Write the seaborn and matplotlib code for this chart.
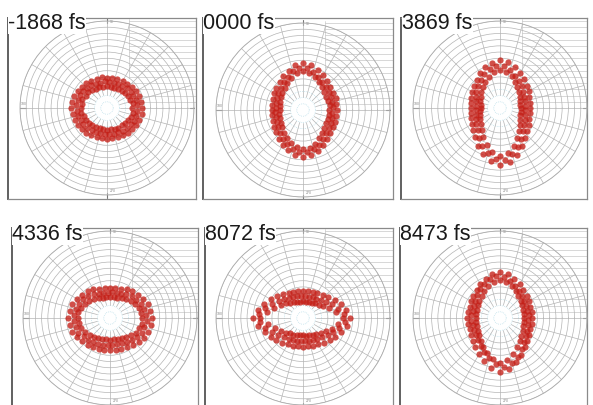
"""
Six polar snapshots of the measured distribution at different delays.
Each panel shows a red point band (read off the original figure at 10 deg steps)
on a dense polar grid inside a framed box.
"""

import numpy as np
import pandas as pd
import matplotlib
matplotlib.use("Agg")
import matplotlib.pyplot as plt
import seaborn as sns

# Panel labels (delay)
LABELS = ["-1868 fs", "0000 fs", "3869 fs", "4336 fs", "8072 fs", "8473 fs"]

# Angles (deg) where the band was read: edges every 10 deg, middle row in between
EDGE_ANGLES = list(range(0, 360, 10))
MID_ANGLES = list(range(5, 360, 10))

# Band radii (fraction of the outer ring)
outer_m1868 = [0.40, 0.40, 0.39, 0.38, 0.37, 0.36, 0.36, 0.35, 0.35, 0.35, 0.36, 0.35,
               0.36, 0.37, 0.38, 0.39, 0.40, 0.41, 0.41, 0.40, 0.39, 0.38, 0.37, 0.37,
               0.36, 0.35, 0.35, 0.36, 0.35, 0.36, 0.36, 0.37, 0.38, 0.39, 0.39, 0.41]
inner_m1868 = [0.29, 0.30, 0.28, 0.28, 0.27, 0.26, 0.25, 0.25, 0.24, 0.25, 0.25, 0.26,
               0.25, 0.27, 0.28, 0.28, 0.30, 0.29, 0.30, 0.30, 0.28, 0.28, 0.27, 0.26,
               0.25, 0.25, 0.24, 0.25, 0.25, 0.26, 0.26, 0.26, 0.27, 0.28, 0.29, 0.30]
mid_m1868 = [0.35, 0.34, 0.33, 0.33, 0.32, 0.31, 0.30, 0.30, 0.30, 0.31, 0.30, 0.31,
             0.32, 0.33, 0.34, 0.34, 0.35, 0.36, 0.35, 0.34, 0.33, 0.33, 0.32, 0.31,
             0.30, 0.30, 0.30, 0.30, 0.31, 0.31, 0.32, 0.33, 0.33, 0.34, 0.35, 0.35]

outer_0000 = [0.39, 0.39, 0.40, 0.40, 0.41, 0.43, 0.46, 0.49, 0.52, 0.54, 0.52, 0.48,
              0.45, 0.42, 0.40, 0.38, 0.37, 0.36, 0.36, 0.36, 0.37, 0.38, 0.40, 0.43,
              0.46, 0.49, 0.52, 0.54, 0.53, 0.50, 0.46, 0.43, 0.41, 0.40, 0.39, 0.39]
inner_0000 = [0.30, 0.31, 0.30, 0.31, 0.32, 0.34, 0.37, 0.40, 0.43, 0.45, 0.43, 0.39,
              0.36, 0.33, 0.31, 0.29, 0.28, 0.27, 0.27, 0.28, 0.28, 0.29, 0.31, 0.34,
              0.37, 0.40, 0.43, 0.45, 0.44, 0.41, 0.37, 0.34, 0.32, 0.31, 0.30, 0.30]
mid_0000 = [0.35, 0.35, 0.35, 0.36, 0.37, 0.39, 0.42, 0.45, 0.48, 0.49, 0.46, 0.42,
            0.39, 0.36, 0.35, 0.33, 0.32, 0.31, 0.32, 0.32, 0.33, 0.35, 0.37, 0.40,
            0.43, 0.46, 0.49, 0.49, 0.47, 0.44, 0.40, 0.37, 0.36, 0.35, 0.35, 0.34]

outer_3869 = [0.35, 0.35, 0.36, 0.38, 0.40, 0.43, 0.47, 0.50, 0.54, 0.55, 0.53, 0.50,
              0.46, 0.42, 0.39, 0.37, 0.35, 0.34, 0.33, 0.34, 0.35, 0.37, 0.40, 0.44,
              0.50, 0.56, 0.62, 0.66, 0.63, 0.57, 0.51, 0.45, 0.41, 0.38, 0.36, 0.35]
inner_3869 = [0.24, 0.23, 0.25, 0.26, 0.29, 0.31, 0.35, 0.39, 0.42, 0.44, 0.42, 0.38,
              0.34, 0.31, 0.28, 0.25, 0.24, 0.22, 0.22, 0.23, 0.24, 0.26, 0.29, 0.33,
              0.39, 0.45, 0.51, 0.55, 0.52, 0.46, 0.40, 0.34, 0.30, 0.27, 0.25, 0.24]
mid_3869 = [0.29, 0.30, 0.31, 0.32, 0.35, 0.38, 0.41, 0.45, 0.48, 0.49, 0.46, 0.43,
            0.39, 0.35, 0.33, 0.31, 0.29, 0.28, 0.28, 0.29, 0.31, 0.33, 0.36, 0.42,
            0.48, 0.54, 0.59, 0.60, 0.55, 0.49, 0.43, 0.38, 0.34, 0.32, 0.30, 0.29]

outer_4336 = [0.48, 0.47, 0.46, 0.44, 0.42, 0.40, 0.38, 0.36, 0.35, 0.35, 0.35, 0.36,
              0.38, 0.40, 0.42, 0.44, 0.46, 0.47, 0.48, 0.47, 0.46, 0.44, 0.42, 0.40,
              0.39, 0.38, 0.37, 0.37, 0.37, 0.38, 0.39, 0.41, 0.43, 0.45, 0.47, 0.48]
inner_4336 = [0.37, 0.36, 0.35, 0.33, 0.31, 0.28, 0.27, 0.25, 0.24, 0.24, 0.24, 0.25,
              0.26, 0.28, 0.31, 0.33, 0.35, 0.37, 0.37, 0.36, 0.35, 0.33, 0.30, 0.28,
              0.27, 0.26, 0.25, 0.25, 0.25, 0.26, 0.27, 0.29, 0.31, 0.34, 0.35, 0.37]
mid_4336 = [0.42, 0.41, 0.39, 0.37, 0.35, 0.33, 0.31, 0.30, 0.30, 0.29, 0.30, 0.31,
            0.33, 0.35, 0.38, 0.39, 0.41, 0.42, 0.42, 0.41, 0.40, 0.37, 0.35, 0.34,
            0.33, 0.32, 0.31, 0.31, 0.31, 0.32, 0.34, 0.36, 0.38, 0.40, 0.41, 0.43]

outer_8072 = [0.54, 0.50, 0.46, 0.42, 0.38, 0.35, 0.33, 0.32, 0.31, 0.31, 0.31, 0.32,
              0.33, 0.36, 0.39, 0.43, 0.48, 0.53, 0.57, 0.52, 0.47, 0.43, 0.40, 0.37,
              0.35, 0.34, 0.33, 0.33, 0.33, 0.34, 0.35, 0.37, 0.40, 0.43, 0.47, 0.51]
inner_8072 = [0.46, 0.38, 0.32, 0.27, 0.24, 0.22, 0.20, 0.19, 0.19, 0.19, 0.19, 0.20,
              0.21, 0.23, 0.26, 0.29, 0.35, 0.42, 0.49, 0.41, 0.34, 0.29, 0.26, 0.23,
              0.22, 0.21, 0.20, 0.20, 0.21, 0.21, 0.22, 0.24, 0.27, 0.31, 0.36, 0.41]
mid_8072 = [0.47, 0.42, 0.37, 0.32, 0.29, 0.27, 0.26, 0.25, 0.25, 0.25, 0.26, 0.26,
            0.28, 0.31, 0.34, 0.39, 0.45, 0.51, 0.50, 0.45, 0.39, 0.35, 0.31, 0.29,
            0.28, 0.27, 0.26, 0.27, 0.27, 0.28, 0.29, 0.31, 0.35, 0.38, 0.43, 0.49]

outer_8473 = [0.37, 0.37, 0.37, 0.38, 0.40, 0.42, 0.45, 0.48, 0.51, 0.53, 0.51, 0.48,
              0.45, 0.42, 0.40, 0.38, 0.37, 0.37, 0.38, 0.37, 0.37, 0.38, 0.41, 0.44,
              0.48, 0.53, 0.58, 0.62, 0.59, 0.54, 0.49, 0.44, 0.41, 0.39, 0.37, 0.37]
inner_8473 = [0.28, 0.28, 0.28, 0.29, 0.31, 0.33, 0.36, 0.39, 0.42, 0.44, 0.42, 0.39,
              0.36, 0.33, 0.31, 0.29, 0.28, 0.28, 0.28, 0.28, 0.28, 0.29, 0.31, 0.34,
              0.38, 0.43, 0.48, 0.52, 0.49, 0.44, 0.39, 0.35, 0.32, 0.30, 0.28, 0.28]
mid_8473 = [0.33, 0.32, 0.33, 0.34, 0.36, 0.38, 0.40, 0.44, 0.47, 0.48, 0.46, 0.43,
            0.40, 0.37, 0.35, 0.33, 0.32, 0.33, 0.33, 0.32, 0.33, 0.34, 0.36, 0.39,
            0.43, 0.48, 0.53, 0.56, 0.53, 0.49, 0.44, 0.39, 0.36, 0.34, 0.33, 0.32]

BANDS = [
    (outer_m1868, inner_m1868, mid_m1868),
    (outer_0000, inner_0000, mid_0000),
    (outer_3869, inner_3869, mid_3869),
    (outer_4336, inner_4336, mid_4336),
    (outer_8072, inner_8072, mid_8072),
    (outer_8473, inner_8473, mid_8473),
]

# Layout in pixels: frame box (x0, y0, x1, y1), polar centre, label origin
W, H = 593, 405
R = 87
FRAMES = [(8, 18, 196, 199), (203, 18, 393, 199), (401, 18, 587, 199),
          (12, 228, 198, 407), (205, 228, 393, 407), (400, 228, 587, 407)]
CENTERS = [(107, 108), (303, 110), (500, 108), (110, 318), (303, 318), (500, 318)]
LABEL_POS = [(8, 29), (203, 29), (402, 29), (12, 240), (205, 240), (400, 240)]

RINGS = np.arange(1, 15) / 14
GRID = "#b4b4b4"


def fig_rect(x0, y0, x1, y1):
    return [x0 / W, 1 - y1 / H, (x1 - x0) / W, (y1 - y0) / H]


sns.set_style("white")
plt.rcParams["font.family"] = ["Liberation Sans", "DejaVu Sans"]

fig = plt.figure(figsize=(W / 100, H / 100), dpi=100)

for i, (label, band) in enumerate(zip(LABELS, BANDS)):
    x0, y0, x1, y1 = FRAMES[i]
    cx, cy = CENTERS[i]

    # framed box with the rectangular grid in the upper right
    cax = fig.add_axes(fig_rect(x0, y0, x1, y1))
    cax.set_xlim((x0 - cx) / R, (x1 - cx) / R)
    cax.set_ylim((cy - y1) / R, (cy - y0) / R)
    cax.set_xticks([])
    cax.set_yticks([])
    for side, sp in cax.spines.items():
        sp.set_color("#8a8a8a")
        sp.set_linewidth(0.9)
    cax.spines["left"].set_color("#606060")
    cax.spines["left"].set_linewidth(1.4)
    if i >= 3:
        cax.spines["bottom"].set_visible(False)
    xmax = (x1 - cx) / R
    for r in RINGS:
        cax.plot([0.25, xmax], [r, r], color="#c2c2c2", lw=0.45, zorder=1)
    cax.plot([0.25, 0.25], [0.35, 1.02], color="#c2c2c2", lw=0.45, zorder=1)
    # small compass ticks with tiny labels
    cax.plot([0, 0], [0.98, 1.03], color="#777777", lw=0.8)
    cax.plot([0, 0], [-1.03, -0.98], color="#777777", lw=0.8)
    cax.plot([-1.0, -0.93], [0, 0], color="#777777", lw=0.8)
    cax.plot([0.95, 1.0], [0, 0], color="#777777", lw=0.8)
    cax.text(0.03, 0.99, "90", fontsize=2.5, color="#888888", va="center")
    cax.text(-0.99, 0.03, "180", fontsize=2.5, color="#888888")
    cax.text(0.03, -0.95, "270", fontsize=2.5, color="#888888", va="center")

    # polar grid and data
    pax = fig.add_axes(fig_rect(cx - R, cy - R, cx + R, cy + R), projection="polar")
    pax.set_facecolor("none")
    pax.set_ylim(0, 1)
    pax.set_yticks(RINGS)
    pax.set_yticklabels([])
    pax.set_xticks([])
    pax.yaxis.grid(True, color=GRID, lw=0.5)
    pax.xaxis.grid(False)
    for gl in pax.yaxis.get_gridlines()[:3]:
        gl.set_color("#a8d6e4")
        gl.set_linestyle(":")
    pax.spines["polar"].set_color("#ababab")
    pax.spines["polar"].set_linewidth(0.6)
    for a in range(0, 360, 15):
        pax.plot([np.deg2rad(a)] * 2, [0.15, 1.0], color=GRID, lw=0.5, zorder=1)

    outer, inner, mid = band
    df = pd.DataFrame({
        "theta": np.deg2rad(EDGE_ANGLES + EDGE_ANGLES + MID_ANGLES),
        "r": outer + inner + mid,
    })
    sns.scatterplot(data=df, x="theta", y="r", ax=pax, color="#c41e16",
                    s=20, linewidth=0, alpha=0.78, legend=False, zorder=3)
    pax.set_xlabel("")
    pax.set_ylabel("")
    pax.set_ylim(0, 1)

    lx, ly = LABEL_POS[i]
    fig.text(lx / W, 1 - ly / H, label, fontsize=15.5, color="#1a1a1a",
             ha="left", va="baseline",
             bbox=dict(facecolor="white", edgecolor="none", pad=0.3))

fig.savefig("out.png", dpi=100)
plt.close(fig)
